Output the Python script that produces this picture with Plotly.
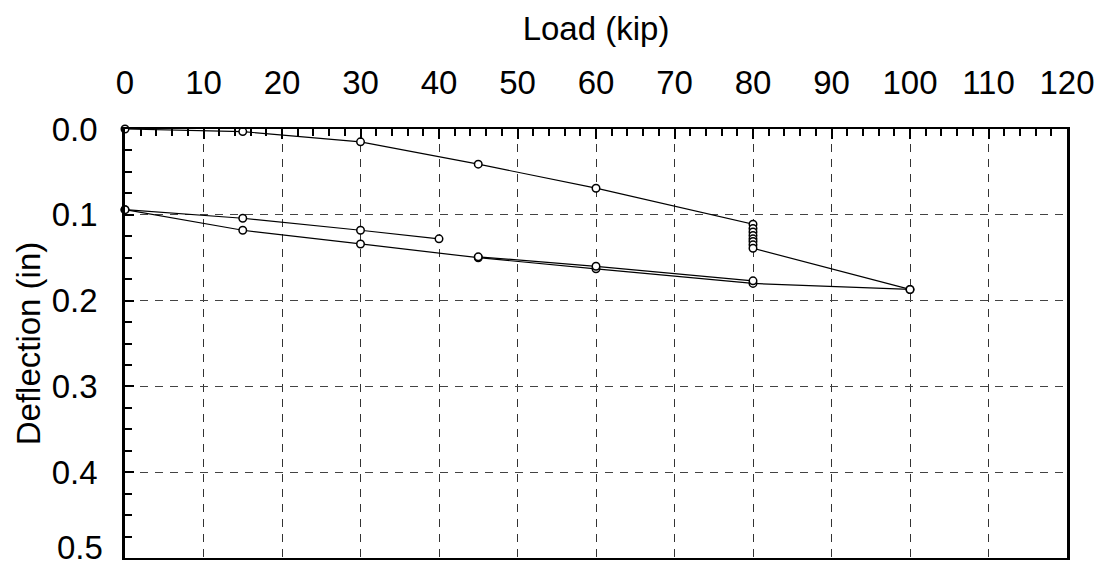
import plotly.graph_objects as go

# Loading branch (kip, in)
load_up = [0, 15, 30, 45, 60, 80, 80, 80, 80, 80, 80, 80, 80, 100]
defl_up = [0.0, 0.003, 0.015, 0.041, 0.069, 0.111, 0.116, 0.120, 0.124, 0.128, 0.131, 0.135, 0.139, 0.187]

# Unloading branch
load_down = [100, 80, 60, 45, 30, 15, 0]
defl_down = [0.187, 0.180, 0.163, 0.150, 0.134, 0.118, 0.094]

# Reloading branch
load_re = [0, 15, 30, 40]
defl_re = [0.094, 0.104, 0.118, 0.128]

# Second cycle segment
load_b = [45, 60, 80]
defl_b = [0.149, 0.160, 0.177]

x_ticks = list(range(0, 121, 10))
y_ticks = [0.0, 0.1, 0.2, 0.3, 0.4, 0.5]
y_labels = ["0.0", "0.1", "0.2", "0.3", "0.4", ""]
y_last_label = "0.5"

FONT = "Liberation Sans, Arial, sans-serif"
FS = 33

fig = go.Figure()
for xs, ys in [(load_up, defl_up), (load_down, defl_down), (load_re, defl_re), (load_b, defl_b)]:
    fig.add_trace(go.Scatter(
        x=xs, y=ys, mode="lines+markers",
        line=dict(color="black", width=1.2),
        marker=dict(symbol="circle", size=7.5, color="white",
                    line=dict(color="black", width=1.5)),
        showlegend=False, cliponaxis=False,
    ))

fig.add_annotation(
    x=0, xref="paper", y=y_ticks[-1], yref="y", text=y_last_label,
    showarrow=False, xanchor="right", yanchor="middle",
    xshift=-20, yshift=11, font=dict(family=FONT, size=FS, color="black"),
)

fig.update_layout(
    width=1101, height=573,
    margin=dict(l=125, r=34, t=129, b=15),
    paper_bgcolor="white", plot_bgcolor="white",
    font=dict(family=FONT, size=FS, color="black"),
    xaxis=dict(
        side="top", range=[0, 120], tickvals=x_ticks,
        ticktext=[str(v) for v in x_ticks], automargin=False,
        title=dict(text="Load (kip)", standoff=13, font=dict(size=FS)),
        showline=True, linecolor="black", linewidth=2, mirror=True,
        ticks="inside", ticklen=10, tickwidth=1.5, tickcolor="black",
        ticklabelstandoff=20,
        showgrid=True, gridcolor="#333", gridwidth=1, griddash="8px,7px",
        zeroline=False,
        minor=dict(dtick=2, ticks="inside", ticklen=7, tickwidth=1.5,
                   tickcolor="black", showgrid=False),
    ),
    yaxis=dict(
        range=[0.5, 0.0], tickvals=y_ticks, ticktext=y_labels, automargin=False,
        title=dict(text="Deflection (in)", standoff=2, font=dict(size=FS)),
        showline=True, linecolor="black", linewidth=2.5, mirror=True,
        ticks="inside", ticklen=9, tickwidth=1.5, tickcolor="black",
        ticklabelstandoff=18,
        showgrid=True, gridcolor="#444", gridwidth=1, griddash="8px,7px",
        zeroline=False,
        minor=dict(dtick=0.025, ticks="inside", ticklen=7, tickwidth=1.5,
                   tickcolor="black", showgrid=False),
    ),
)

fig.write_html("out.html")
